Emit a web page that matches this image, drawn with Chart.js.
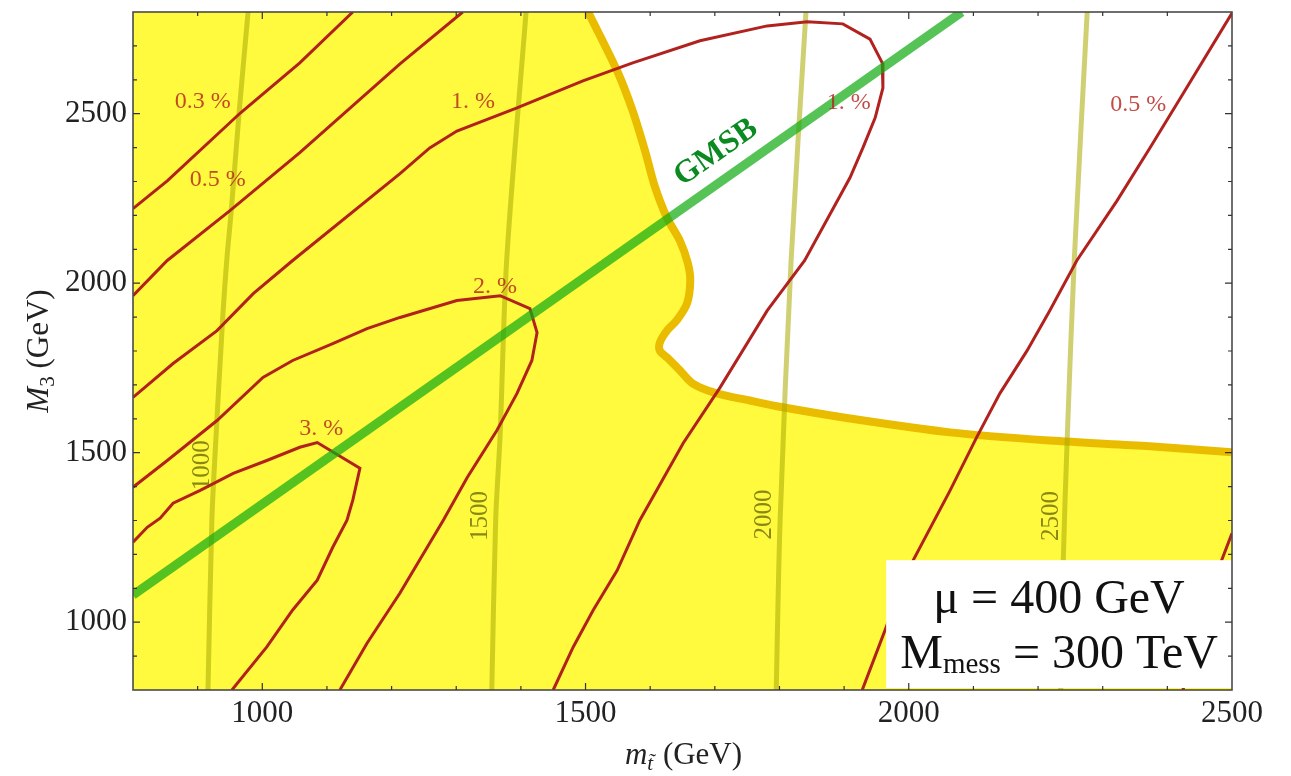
<!DOCTYPE html>
<html>
<head>
<meta charset="utf-8">
<script src="https://cdn.jsdelivr.net/npm/chart.js@4.4.1/dist/chart.umd.min.js"></script>
<style>
  body { margin: 0; background: #fff; }
  #wrap { width: 1291px; height: 776px; }
</style>
</head>
<body>
<div id="wrap"><canvas id="plot" width="1291" height="776"></canvas></div>
<script>
// axis ticks (GeV)
const xTicks = [1000, 1500, 2000, 2500];
const yTicks = [1000, 1500, 2000, 2500];

// edge of the allowed (yellow) region
const edgeX = [1504, 1549, 1573, 1592, 1607, 1626, 1646, 1658, 1662, 1657, 1641, 1626, 1615, 1615, 1626, 1646, 1666, 1703, 1754, 1805, 1909, 2064, 2218, 2373, 2500];
const edgeY = [2800, 2626, 2508, 2391, 2287, 2193, 2125, 2061, 2008, 1940, 1890, 1860, 1825, 1801, 1781, 1743, 1704, 1675, 1654, 1634, 1601, 1560, 1536, 1519, 1501];

// tuning contours (percent)
const tune03X = [800, 853, 966, 1058, 1140];
const tune03Y = [2220, 2302, 2502, 2650, 2800];
const tune05X = [800, 853, 950, 1058, 1213, 1310];
const tune05Y = [1963, 2067, 2214, 2385, 2647, 2800];
const tune1X = [800, 862, 930, 986, 1047, 1213, 1259, 1301, 1394, 1496, 1573, 1677, 1781, 1843, 1898, 1940, 1959, 1960, 1948, 1929, 1909, 1839, 1781, 1708, 1651, 1584, 1549, 1512, 1481, 1450];
const tune1Y = [1663, 1763, 1860, 1969, 2067, 2323, 2399, 2449, 2517, 2597, 2650, 2715, 2759, 2771, 2765, 2720, 2650, 2576, 2488, 2399, 2311, 2067, 1919, 1692, 1528, 1301, 1153, 1036, 927, 800];
const tune2X = [800, 853, 930, 1001, 1047, 1109, 1162, 1213, 1301, 1368, 1414, 1425, 1417, 1394, 1363, 1317, 1280, 1213, 1162, 1120];
const tune2Y = [1398, 1477, 1595, 1722, 1772, 1822, 1866, 1899, 1949, 1963, 1925, 1854, 1772, 1675, 1566, 1427, 1301, 1086, 938, 800];
const tune3X = [800, 822, 842, 862, 904, 955, 1007, 1058, 1085, 1151, 1140, 1131, 1109, 1085, 1047, 1007, 953];
const tune3Y = [1236, 1280, 1307, 1351, 1389, 1439, 1477, 1516, 1530, 1454, 1360, 1301, 1221, 1124, 1036, 927, 800];
const tune05bX = [1928, 1971, 2007, 2064, 2105, 2141, 2183, 2218, 2260, 2322, 2373, 2424, 2500];
const tune05bY = [800, 1015, 1183, 1389, 1545, 1675, 1801, 1919, 2067, 2243, 2399, 2558, 2797];
const tune03bX = [2424, 2484, 2500];
const tune03bY = [800, 1183, 1262];

// mass contours 1000 / 1500 / 2000 / 2500 GeV
const mass1000X = [978, 964, 952, 945, 939, 927, 922, 916];
const mass1000Y = [2800, 2500, 2214, 2067, 1905, 1498, 1301, 800];
const mass1500X = [1408, 1378, 1368, 1361, 1355];
const mass1500Y = [2800, 2067, 1557, 1301, 800];
const mass2000X = [1841, 1818, 1801, 1795];
const mass2000Y = [2800, 2067, 1301, 800];
const mass2500X = [2276, 2256, 2245, 2239, 2235];
const mass2500Y = [2800, 2067, 1536, 1183, 800];

// GMSB line
const gmsbX = [800, 2082];
const gmsbY = [1080, 2800];

// label anchors (data units)
const tuneLabels = [
    { text: '0.3 %', x: 908, y: 2535 },
    { text: '0.5 %', x: 931, y: 2305 },
    { text: '1. %', x: 1326, y: 2535 },
    { text: '1. %', x: 1907, y: 2532 },
    { text: '0.5 %', x: 2355, y: 2526 },
    { text: '2. %', x: 1360, y: 1990 },
    { text: '3. %', x: 1091, y: 1572 }
];
const massLabels = [
    { text: '1000', x: 907, y: 1463 },
    { text: '1500', x: 1338, y: 1313 },
    { text: '2000', x: 1776, y: 1318 },
    { text: '2500', x: 2220, y: 1313 }
];

const pts = (xs, ys) => xs.map((v, i) => ({ x: v, y: ys[i] }));

const RED = '#b1221f';
const OLIVE = 'rgba(170,170,0,0.55)';
const SERIF = '"Liberation Serif", "DejaVu Serif", serif';

function contour(xs, ys) {
    return { data: pts(xs, ys), borderColor: RED, borderWidth: 3, tension: 0, order: 2 };
}
function massLine(xs, ys) {
    return { data: pts(xs, ys), borderColor: OLIVE, borderWidth: 5, tension: 0.3, order: 3 };
}

// yellow region = everything left of / below the edge curve
const regionX = edgeX.concat([2500, 800, 800]);
const regionY = edgeY.concat([800, 800, 2800]);

const datasets = [
    { data: pts(regionX, regionY), backgroundColor: 'rgb(255,250,62)', borderColor: 'rgba(0,0,0,0)', fill: 'shape', tension: 0, order: 5 },
    { data: pts(edgeX, edgeY), borderColor: '#e9bc00', borderWidth: 8, tension: 0.3, order: 4 },
    massLine(mass1000X, mass1000Y),
    massLine(mass1500X, mass1500Y),
    massLine(mass2000X, mass2000Y),
    massLine(mass2500X, mass2500Y),
    contour(tune03X, tune03Y),
    contour(tune05X, tune05Y),
    contour(tune1X, tune1Y),
    contour(tune2X, tune2Y),
    contour(tune3X, tune3Y),
    contour(tune05bX, tune05bY),
    contour(tune03bX, tune03bY),
    { data: pts(gmsbX, gmsbY), borderColor: 'rgba(20,172,20,0.72)', borderWidth: 9, tension: 0, order: 1 }
];
datasets.forEach(d => { d.showLine = true; d.pointRadius = 0; });

const decorations = {
    id: 'decorations',
    afterDatasetsDraw(chart) {
        const { ctx, chartArea: a, scales: { x, y } } = chart;
        ctx.save();

        // contour labels
        ctx.textAlign = 'center';
        ctx.textBaseline = 'middle';
        ctx.font = '24px ' + SERIF;
        ctx.fillStyle = 'rgba(180,36,30,0.82)';
        tuneLabels.forEach(l => ctx.fillText(l.text, x.getPixelForValue(l.x), y.getPixelForValue(l.y)));

        ctx.font = '25px ' + SERIF;
        ctx.fillStyle = 'rgba(85,85,0,0.7)';
        massLabels.forEach(l => {
            ctx.save();
            ctx.translate(x.getPixelForValue(l.x), y.getPixelForValue(l.y));
            ctx.rotate(-Math.PI / 2);
            ctx.fillText(l.text, 0, 0);
            ctx.restore();
        });

        // GMSB tag along the line
        const ang = Math.atan2(y.getPixelForValue(gmsbY[1]) - y.getPixelForValue(gmsbY[0]),
                               x.getPixelForValue(gmsbX[1]) - x.getPixelForValue(gmsbX[0]));
        ctx.save();
        ctx.translate(x.getPixelForValue(1702), y.getPixelForValue(2385));
        ctx.rotate(ang);
        ctx.font = 'bold 32px ' + SERIF;
        ctx.fillStyle = '#0b8a22';
        ctx.fillText('GMSB', 0, 0);
        ctx.restore();

        // parameter box
        const bx = x.getPixelForValue(1965), by = y.getPixelForValue(1183);
        const bw = a.right - bx, bh = a.bottom - 2 - by;
        ctx.fillStyle = '#fff';
        ctx.fillRect(bx, by, bw, bh);
        const cx = bx + bw / 2;
        ctx.fillStyle = '#111';
        ctx.textBaseline = 'alphabetic';
        ctx.font = '48px ' + SERIF;
        ctx.fillText('\u03bc = 400 GeV', cx, by + 53);
        ctx.textAlign = 'left';
        const big = '48px ' + SERIF, small = '29px ' + SERIF;
        ctx.font = big;
        const wM = ctx.measureText('M').width;
        const wRest = ctx.measureText(' = 300 TeV').width;
        ctx.font = small;
        const wSub = ctx.measureText('mess').width;
        let tx = cx - (wM + wSub + wRest) / 2;
        const base2 = by + 108;
        ctx.font = big; ctx.fillText('M', tx, base2); tx += wM;
        ctx.font = small; ctx.fillText('mess', tx, base2 + 5); tx += wSub;
        ctx.font = big; ctx.fillText(' = 300 TeV', tx, base2);

        // frame and inward ticks on all sides
        ctx.strokeStyle = '#4a4a4a';
        ctx.lineWidth = 1.6;
        ctx.strokeRect(a.left, a.top, a.width, a.height);
        ctx.lineWidth = 1.2;
        ctx.strokeStyle = '#333';
        ctx.beginPath();
        for (let v = 900; v < 2500; v += 100) {
            const p = x.getPixelForValue(v), len = v % 500 === 0 ? 7 : 4;
            ctx.moveTo(p, a.bottom); ctx.lineTo(p, a.bottom - len);
            ctx.moveTo(p, a.top); ctx.lineTo(p, a.top + len);
        }
        for (let v = 900; v < 2800; v += 100) {
            const p = y.getPixelForValue(v), len = v % 500 === 0 ? 7 : 4;
            ctx.moveTo(a.left, p); ctx.lineTo(a.left + len, p);
            ctx.moveTo(a.right, p); ctx.lineTo(a.right - len, p);
        }
        ctx.stroke();

        // axis titles
        ctx.fillStyle = '#222';
        const reg = '31px ' + SERIF, ital = 'italic 31px ' + SERIF, sub = 'italic 21px ' + SERIF;
        // x: m_t~ (GeV)
        ctx.font = ital; const wm = ctx.measureText('m').width;
        ctx.font = sub; const wt = ctx.measureText('t').width;
        const wTil = ctx.measureText('\u02dc').width;
        ctx.font = reg; const wg = ctx.measureText(' (GeV)').width;
        let px = (a.left + a.right) / 2 - (wm + wt + wg) / 2;
        const xb = 764;
        ctx.font = ital; ctx.fillText('m', px, xb); px += wm;
        ctx.font = sub; ctx.fillText('t', px, xb + 6);
        ctx.fillText('\u02dc', px + (wt - wTil) / 2 + 1, xb + 4); px += wt + 2;
        ctx.font = reg; ctx.fillText(' (GeV)', px, xb);
        // y: M_3 (GeV)
        ctx.save();
        ctx.translate(48, (a.top + a.bottom) / 2);
        ctx.rotate(-Math.PI / 2);
        ctx.font = ital; const wM3 = ctx.measureText('M').width;
        ctx.font = '21px ' + SERIF; const w3 = ctx.measureText('3').width;
        ctx.font = reg; const wG = ctx.measureText(' (GeV)').width;
        let py = -(wM3 + w3 + wG) / 2;
        ctx.font = ital; ctx.fillText('M', py, 0); py += wM3;
        ctx.font = '21px ' + SERIF; ctx.fillText('3', py, 6); py += w3;
        ctx.font = reg; ctx.fillText(' (GeV)', py, 0);
        ctx.restore();

        ctx.restore();
    }
};

const tickFont = { family: '"Liberation Serif", serif', size: 31 };
const plain = v => String(v);

new Chart(document.getElementById('plot'), {
    type: 'scatter',
    data: { datasets },
    options: {
        responsive: false,
        animation: false,
        devicePixelRatio: 1,
        layout: { padding: { top: 12, right: 59, left: 0, bottom: 0 } },
        plugins: { legend: { display: false }, tooltip: { enabled: false } },
        scales: {
            x: {
                type: 'linear', min: 800, max: 2500,
                grid: { display: false, drawTicks: false },
                border: { display: false },
                afterBuildTicks: s => { s.ticks = xTicks.map(v => ({ value: v })); },
                afterFit: s => { s.height = 86; s.paddingLeft = 0; s.paddingRight = 0; },
                ticks: { font: tickFont, color: '#222', padding: 5, autoSkip: false, maxRotation: 0, callback: plain }
            },
            y: {
                type: 'linear', min: 800, max: 2800,
                grid: { display: false, drawTicks: false },
                border: { display: false },
                afterBuildTicks: s => { s.ticks = yTicks.map(v => ({ value: v })); },
                afterFit: s => { s.width = 133; s.paddingTop = 0; s.paddingBottom = 0; },
                ticks: { font: tickFont, color: '#222', padding: 6, autoSkip: false, callback: plain }
            }
        }
    },
    plugins: [decorations]
});
</script>
</body>
</html>
